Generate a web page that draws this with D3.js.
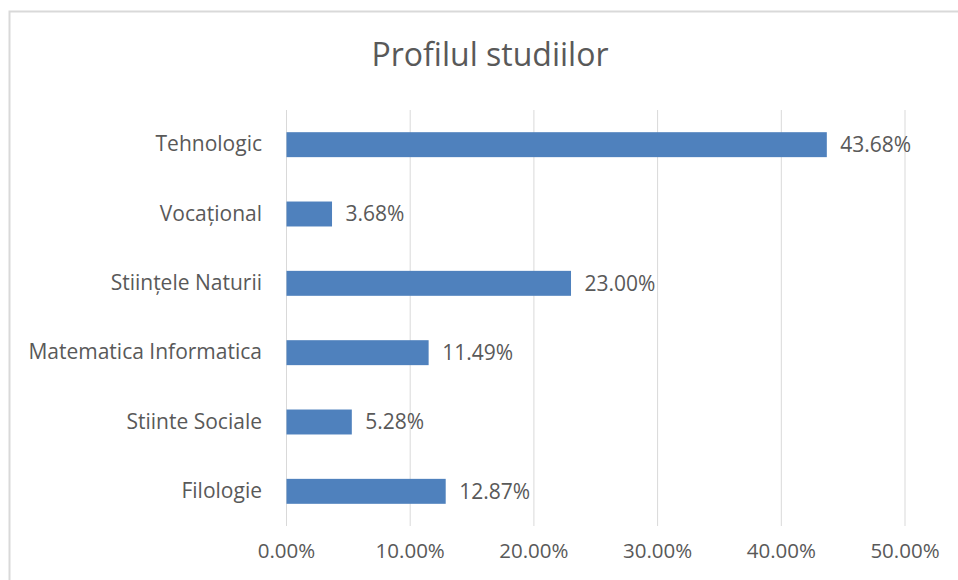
<!DOCTYPE html>
<html>
<head>
<meta charset="utf-8">
<script src="https://cdn.jsdelivr.net/npm/d3@7"></script>
<style>
  body { margin: 0; background: #fff; }
  text { font-family: "Open Sans", "Noto Sans", sans-serif; fill: #595959; }
</style>
</head>
<body>
<div id="chart-area"></div>
<script>
// Chart data
let categories = ["Tehnologic", "Vocațional", "Stiințele Naturii", "Matematica Informatica", "Stiinte Sociale", "Filologie"];
let values = [43.68, 3.68, 23.00, 11.49, 5.28, 12.87];
let tickValues = [0, 10, 20, 30, 40, 50];

let margin = {top: 110, right: 54, bottom: 54, left: 286};
let fullWidth = 958, fullHeight = 580;

let root = d3.select("#chart-area").append("svg")
    .attr("width", fullWidth)
    .attr("height", fullHeight);

// outer chart border (cropped at right/bottom like the screenshot)
root.append("rect")
    .attr("x", 9.5)
    .attr("y", 11.5)
    .attr("width", 960)
    .attr("height", 580)
    .attr("fill", "none")
    .attr("stroke", "#d9d9d9")
    .attr("stroke-width", 2);

root.append("text")
    .attr("x", 490)
    .attr("y", 66)
    .attr("text-anchor", "middle")
    .style("font-size", "32px")
    .text("Profilul studiilor");

let svg = root.append("g")
    .attr("transform", "translate(" + margin.left + "," + margin.top + ")");

// Scales
let x = d3.scaleLinear()
    .domain([0, 50])
    .range([0, 618.5]);

let y = d3.scaleBand()
    .domain(categories)
    .range([0, 416])
    .paddingInner(0.64)
    .paddingOuter(0.32);

// Gridlines
svg.selectAll(".grid")
    .data(tickValues)
    .enter().append("line")
    .attr("class", "grid")
    .attr("x1", d => x(d) + 0.5)
    .attr("x2", d => x(d) + 0.5)
    .attr("y1", 0)
    .attr("y2", 416)
    .attr("stroke", "#d9d9d9")
    .attr("stroke-width", 1);

// X axis labels
let xAxis = d3.axisBottom(x)
    .tickValues(tickValues)
    .tickFormat(d => d.toFixed(2) + "%")
    .tickSize(0)
    .tickPadding(17);

let xAxisGroup = svg.append("g")
    .attr("class", "x-axis axis")
    .attr("transform", "translate(0,416)")
    .call(xAxis);
xAxisGroup.select(".domain").remove();
xAxisGroup.selectAll("text")
    .style("font-size", "20.5px")
    .attr("fill", "#595959");

// Y axis labels
let yAxis = d3.axisLeft(y)
    .tickSize(0)
    .tickPadding(24);

let yAxisGroup = svg.append("g")
    .attr("class", "y-axis axis")
    .call(yAxis);
yAxisGroup.select(".domain").remove();
yAxisGroup.selectAll("text")
    .style("font-size", "21px")
    .attr("fill", "#595959");

// Bars
let rows = categories.map((c, i) => ({name: c, value: values[i]}));

svg.selectAll(".bar")
    .data(rows)
    .enter().append("rect")
    .attr("class", "bar")
    .attr("x", x(0) + 0.5)
    .attr("y", d => y(d.name))
    .attr("width", d => x(d.value) - x(0))
    .attr("height", y.bandwidth())
    .attr("fill", "#4f81bd");

// Value labels
svg.selectAll(".value-label")
    .data(rows)
    .enter().append("text")
    .attr("class", "value-label")
    .attr("x", d => x(d.value) + 14)
    .attr("y", d => y(d.name) + y.bandwidth() / 2)
    .attr("dy", "0.35em")
    .style("font-size", "21px")
    .text(d => d.value.toFixed(2) + "%");
</script>
</body>
</html>
